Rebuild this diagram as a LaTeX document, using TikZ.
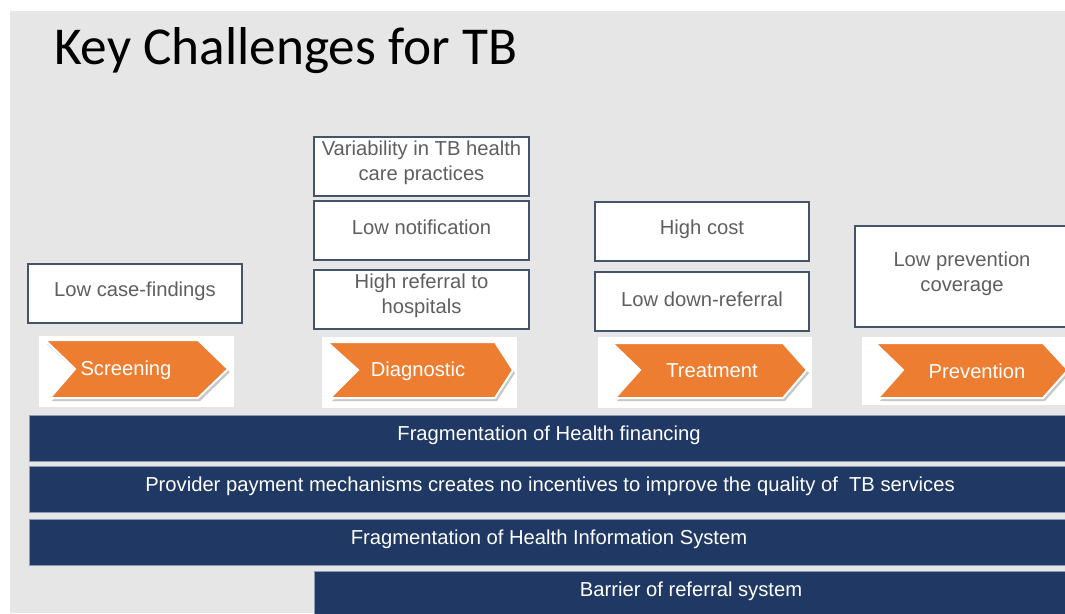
\documentclass[tikz,border=0pt]{standalone}
\usepackage{fontspec}
\setmainfont{Liberation Sans}
\newfontfamily\titlefont{Carlito}
\definecolor{bg}{HTML}{E7E6E6}
\definecolor{navy}{HTML}{203864}
\definecolor{boxline}{HTML}{44546A}
\definecolor{boxtext}{HTML}{5F5F5F}
\definecolor{chev}{HTML}{ED7D31}
\definecolor{barline}{HTML}{8A9BB5}
\begin{document}
\begin{tikzpicture}[x=1pt,y=-1pt,
  issue/.style={draw=boxline,line width=1.5pt,fill=white},
  issuetext/.style={text=boxtext,font=\fontsize{20.2}{24.5}\selectfont,align=center},
  bar/.style={draw=barline,line width=1pt,fill=navy},
  bartext/.style={text=white,font=\fontsize{20.2}{24}\selectfont},
  chevbg/.style={fill=white,draw=none},
  chevshape/.style={fill=chev,draw=white,line width=2pt,line join=miter},
  chevshadow/.style={fill=black!22,draw=none},
  chevtext/.style={text=white,font=\fontsize{20.2}{24}\selectfont}]
\useasboundingbox (0,0) rectangle (1065,613);
\fill[white] (0,0) rectangle (1065,613);
\fill[bg] (10,11) rectangle (1065,613);
% title
\node[anchor=base west,inner sep=0,font=\titlefont\fontsize{53.3}{58}\selectfont] (title) at (54,64) {Key Challenges for TB};
% issue boxes
\draw[issue] (28,264) rectangle (242,323);
\node[issuetext] (lcf) at (135,291) {Low case-findings};
\draw[issue] (314,137) rectangle (529,196);
\node[issuetext] (var) at (421.5,163) {Variability in TB health\\care practices};
\draw[issue] (314,201) rectangle (529,260);
\node[issuetext] (lno) at (421.5,227) {Low notification};
\draw[issue] (314,270) rectangle (529,329);
\node[issuetext] (hrh) at (421.5,296) {High referral to\\hospitals};
\draw[issue] (595,202) rectangle (809,261);
\node[issuetext] (hc) at (702,229) {High cost};
\draw[issue] (595,272) rectangle (809,331);
\node[issuetext] (ldr) at (702,299) {Low down-referral};
\draw[issue] (855,226) rectangle (1075,327);
\node[issuetext] (lpc) at (962,274) {Low prevention\\coverage};
% chevrons
\fill[chevbg] (39,336) rectangle (234,407);
\fill[chevshadow] (47,344) -- (200,344) -- (230,372) -- (200,401) -- (52,401) -- (77,372) -- cycle;
\draw[chevshape] (45,340) -- (198,340) -- (228,369) -- (198,398) -- (50,398) -- (75,369) -- cycle;
\node[chevtext] (scr) at (126,370) {Screening};
\fill[chevbg] (322,337) rectangle (517,408);
\fill[chevshadow] (329,345) -- (497,345) -- (515,373) -- (497,401) -- (332,401) -- (360,373) -- cycle;
\draw[chevshape] (327,342) -- (495,342) -- (513,370) -- (495,398) -- (330,398) -- (358,370) -- cycle;
\node[chevtext] (dia) at (418,371) {Diagnostic};
\fill[chevbg] (598,337) rectangle (812,408);
\fill[chevshadow] (614,346) -- (785,346) -- (809,373) -- (785,401) -- (617,401) -- (642,373) -- cycle;
\draw[chevshape] (612,343) -- (783,343) -- (807,370) -- (783,398) -- (615,398) -- (640,370) -- cycle;
\node[chevtext] (trt) at (712,371) {Treatment};
\fill[chevbg] (862,337) rectangle (1065,405);
\fill[chevshadow] (877,346) -- (1045,346) -- (1070,373) -- (1045,401) -- (880,401) -- (905,373) -- cycle;
\draw[chevshape] (875,343) -- (1043,343) -- (1068,370) -- (1043,398) -- (878,398) -- (903,370) -- cycle;
\node[chevtext] (prv) at (977,371) {Prevention};
% bars
\draw[bar] (29,415) rectangle (1075,461);
\node[bartext] (b1) at (549,435) {Fragmentation of Health financing};
\draw[bar] (29,466) rectangle (1075,512);
\node[bartext] (b2) at (550,486) {Provider payment mechanisms creates no incentives to improve the quality of\ \ TB services};
\draw[bar] (29,519) rectangle (1075,565);
\node[bartext] (b3) at (549,539) {Fragmentation of Health Information System};
\draw[bar] (314,571) rectangle (1075,620);
\node[bartext] (b4) at (691,591) {Barrier of referral system};
\end{tikzpicture}
\end{document}
